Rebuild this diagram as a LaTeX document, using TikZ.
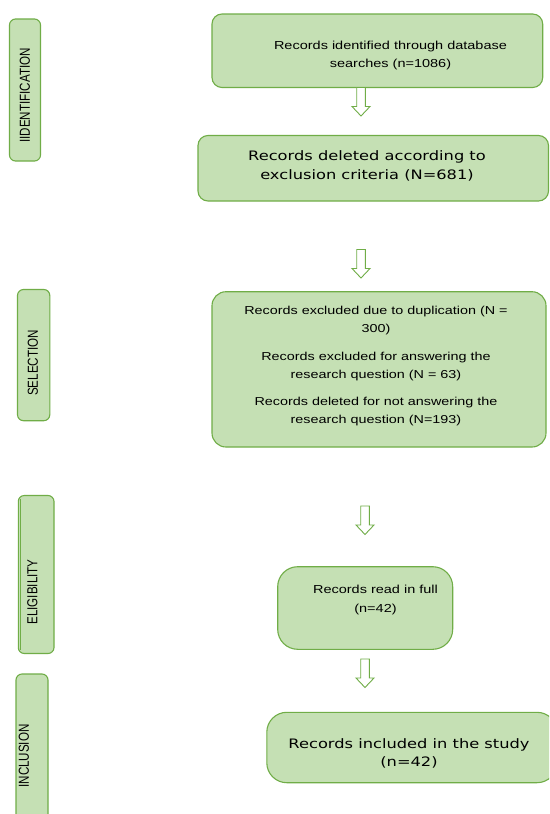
\documentclass[tikz,border=0pt]{standalone}
\usepackage{fontspec}
\usepackage{graphicx}
\setmainfont[FakeStretch=1.25]{Liberation Sans}
\newfontfamily\wideface[FakeStretch=1.25]{DejaVu Sans}
\newfontfamily\labelface{Liberation Sans}
\definecolor{boxfill}{HTML}{C5E0B4}
\definecolor{boxline}{HTML}{70AD47}
\tikzset{
  stagebox/.style={draw=boxline, fill=boxfill, line width=1.1pt, rectangle, inner sep=0pt},
  txt/.style={align=center, inner sep=0pt, text=black},
  phase/.style={rotate=90, inner sep=0pt, text=black, font=\labelface\fontsize{11.6}{14}\selectfont},
  hollowarrow/.pic={\draw[draw=boxline, fill=white, line width=0.9pt]
    (-4.3,0) -- (-4.3,19) -- (-9,19) -- (0,28.5) -- (9,19) -- (4.3,19) -- (4.3,0) -- cycle;}
}
\begin{document}
\begin{tikzpicture}[x=1pt,y=-1pt]
\useasboundingbox (0,0) rectangle (549,814);
\clip (0,0) rectangle (549,814);
\fill[white] (0,0) rectangle (549,814);

% phase labels
\node[stagebox, rounded corners=6pt, minimum width=31pt, minimum height=142pt] (l1) at (25,90) {};
\node[phase] (p1) at (25,95.5) {\scalebox{1}[1.25]{IIDENTIFICATION}};
\node[stagebox, rounded corners=6pt, minimum width=32.3pt, minimum height=131.2pt] (l2) at (33.65,355.1) {};
\node[phase] (p2) at (33,363) {\scalebox{1}[1.25]{SELECTION}};
\node[stagebox, rounded corners=6pt, minimum width=35.7pt, minimum height=158pt] (l3) at (36.15,574.5) {};
\draw[boxline, line width=0.6pt] ([xshift=2.6pt,yshift=-4pt]l3.north west) -- ([xshift=2.6pt,yshift=4pt]l3.south west);
\node[phase] (p3) at (32.5,592) {\scalebox{1}[1.25]{ELIGIBILITY}};
\node[stagebox, rounded corners=6pt, minimum width=32pt, minimum height=156pt] (l4) at (32,752) {};
\node[phase] (p4) at (24,756) {\scalebox{1}[1.25]{INCLUSION}};

% flow boxes
\node[stagebox, rounded corners=10pt, minimum width=330.7pt, minimum height=73.5pt] (b1) at (377.35,50.75) {};
\node[txt, font=\fontsize{11.6}{18}\selectfont] (t1) at (390.5,55) {Records identified through database\\ searches (n=1086)};

\node[stagebox, rounded corners=10pt, minimum width=350.5pt, minimum height=65.5pt] (b2) at (373.25,168.25) {};
\node[txt, font=\wideface\fontsize{13}{19}\selectfont] (t2) at (367,165.5) {Records deleted according to\\ exclusion criteria (N=681)};

\node[stagebox, rounded corners=14pt, minimum width=334pt, minimum height=155.3pt] (b3) at (379,369.35) {};
\node[txt, font=\fontsize{11.5}{18}\selectfont] (t3) at (376,366) {Records excluded due to duplication (N =\\ 300)\\[10pt] Records excluded for answering the\\ research question (N = 63)\\[9.5pt] Records deleted for not answering the\\ research question (N=193)};

\node[stagebox, rounded corners=20pt, minimum width=175pt, minimum height=82.6pt] (b4) at (365.2,608) {};
\node[txt, font=\fontsize{11.6}{19}\selectfont] (t4) at (375.5,599.5) {Records read in full\\ (n=42)};

\node[stagebox, rounded corners=20pt, minimum width=290.2pt, minimum height=70.4pt] (b5) at (411.9,747.5) {};
\node[txt, font=\wideface\fontsize{13}{18.4}\selectfont] (t5) at (409,753.5) {Records included in the study\\ (n=42)};

% hollow arrows
\pic at (361,87.5) {hollowarrow};
\pic at (361,249.5) {hollowarrow};
\pic at (365,506) {hollowarrow};
\pic at (365,659) {hollowarrow};
\end{tikzpicture}
\end{document}
